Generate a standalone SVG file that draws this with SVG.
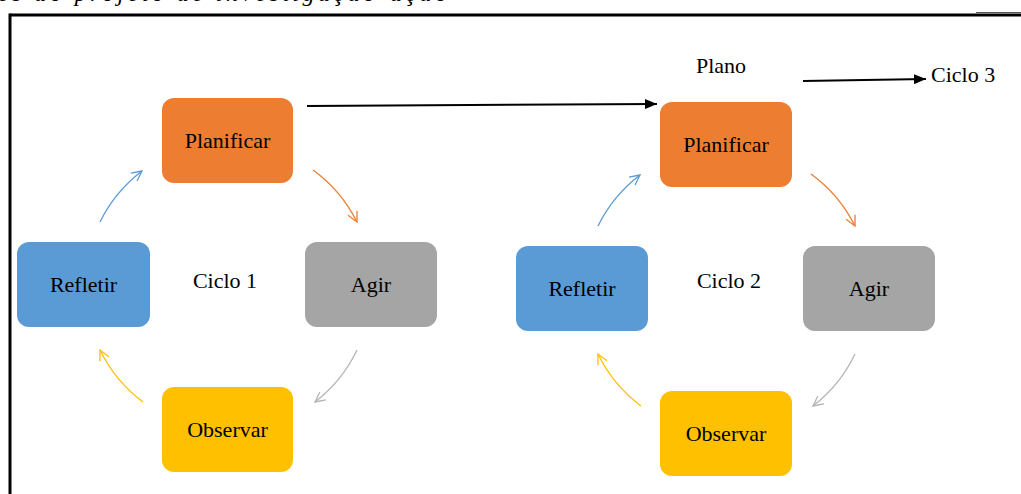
<svg xmlns="http://www.w3.org/2000/svg" width="1021" height="494" viewBox="0 0 1021 494">
<style>
.lbl{font-family:"Liberation Serif","Times New Roman",serif;font-size:22px;fill:#000;text-anchor:middle}
.free{font-family:"Liberation Serif","Times New Roman",serif;font-size:22px;fill:#000}
.cap{font-family:"Liberation Serif","Times New Roman",serif;font-size:24px;font-style:italic;fill:#000}
.arc{fill:none;stroke-width:1.3}
.blk{fill:none;stroke:#000;stroke-width:2}
</style>
<defs>
<marker id="mBlue" viewBox="0 0 12 12" refX="11" refY="6" markerWidth="12" markerHeight="12" markerUnits="userSpaceOnUse" orient="auto"><path d="M1,1 L11,6 L1,11" fill="none" stroke="#5B9BD5" stroke-width="1.3"/></marker>
<marker id="mOrange" viewBox="0 0 12 12" refX="11" refY="6" markerWidth="12" markerHeight="12" markerUnits="userSpaceOnUse" orient="auto"><path d="M1,1 L11,6 L1,11" fill="none" stroke="#ED7D31" stroke-width="1.3"/></marker>
<marker id="mGray" viewBox="0 0 12 12" refX="11" refY="6" markerWidth="12" markerHeight="12" markerUnits="userSpaceOnUse" orient="auto"><path d="M1,1 L11,6 L1,11" fill="none" stroke="#B4B4B4" stroke-width="1.3"/></marker>
<marker id="mYellow" viewBox="0 0 12 12" refX="11" refY="6" markerWidth="12" markerHeight="12" markerUnits="userSpaceOnUse" orient="auto"><path d="M1,1 L11,6 L1,11" fill="none" stroke="#FFC000" stroke-width="1.3"/></marker>
<marker id="mBlack" viewBox="0 0 12 10" refX="12" refY="5" markerWidth="12" markerHeight="10" markerUnits="userSpaceOnUse" orient="auto"><path d="M0,0 L12,5 L0,10 Z" fill="#000"/></marker>
</defs>
<rect width="1021" height="494" fill="#fff"/>
<g id="caption">
<text class="cap" x="-2" y="1" textLength="449" lengthAdjust="spacing">es do projeto de investigação-ação</text>
</g>
<g id="frame">
<line x1="10" y1="15" x2="1021" y2="15" stroke="#000" stroke-width="3"/>
<line x1="10" y1="13.5" x2="10" y2="494" stroke="#000" stroke-width="3"/>
<line x1="976" y1="12.5" x2="1021" y2="12.5" stroke="#555" stroke-width="1"/>
</g>
<g id="connectors">
<path class="arc" stroke="#5B9BD5" marker-end="url(#mBlue)" d="M100,222 A144,144 0 0 1 142,171"/>
<path class="arc" stroke="#ED7D31" marker-end="url(#mOrange)" d="M313,170 A144,144 0 0 1 357,222"/>
<path class="arc" stroke="#B4B4B4" marker-end="url(#mGray)" d="M357,350 A144,144 0 0 1 315,402"/>
<path class="arc" stroke="#FFC000" marker-end="url(#mYellow)" d="M143,402 A144,144 0 0 1 100,350"/>
<path class="arc" stroke="#5B9BD5" marker-end="url(#mBlue)" d="M598,226 A144,144 0 0 1 640,175"/>
<path class="arc" stroke="#ED7D31" marker-end="url(#mOrange)" d="M811,174 A144,144 0 0 1 855,226"/>
<path class="arc" stroke="#B4B4B4" marker-end="url(#mGray)" d="M855,354 A144,144 0 0 1 813,406"/>
<path class="arc" stroke="#FFC000" marker-end="url(#mYellow)" d="M641,406 A144,144 0 0 1 598,354"/>
<line class="blk" x1="307" y1="106" x2="657" y2="104" marker-end="url(#mBlack)"/>
<line class="blk" x1="803" y1="81" x2="926" y2="79" marker-end="url(#mBlack)"/>
</g>
<g id="ciclo1">
<g id="planificar1"><rect x="162" y="98" width="131" height="85" rx="12" fill="#ED7D31"/><text class="lbl" x="227.5" y="148">Planificar</text></g>
<g id="agir1"><rect x="305" y="242" width="132" height="85" rx="12" fill="#A5A5A5"/><text class="lbl" x="371" y="292">Agir</text></g>
<g id="observar1"><rect x="162" y="387" width="131" height="85" rx="12" fill="#FFC000"/><text class="lbl" x="227.5" y="437">Observar</text></g>
<g id="refletir1"><rect x="17" y="242" width="133" height="85" rx="12" fill="#5B9BD5"/><text class="lbl" x="83.5" y="292">Refletir</text></g>
<g id="label-ciclo1"><text class="lbl" x="225" y="288">Ciclo 1</text></g>
</g>
<g id="ciclo2">
<g id="planificar2"><rect x="660" y="102" width="132" height="85" rx="12" fill="#ED7D31"/><text class="lbl" x="726" y="152">Planificar</text></g>
<g id="agir2"><rect x="803" y="246" width="132" height="85" rx="12" fill="#A5A5A5"/><text class="lbl" x="869" y="296">Agir</text></g>
<g id="observar2"><rect x="660" y="391" width="132" height="85" rx="12" fill="#FFC000"/><text class="lbl" x="726" y="441">Observar</text></g>
<g id="refletir2"><rect x="516" y="246" width="132" height="85" rx="12" fill="#5B9BD5"/><text class="lbl" x="582" y="296">Refletir</text></g>
<g id="label-ciclo2"><text class="lbl" x="729" y="288">Ciclo 2</text></g>
</g>
<g id="plano"><text class="free" x="696" y="73">Plano</text></g>
<g id="ciclo3"><text class="free" x="931" y="82">Ciclo 3</text></g>
</svg>
